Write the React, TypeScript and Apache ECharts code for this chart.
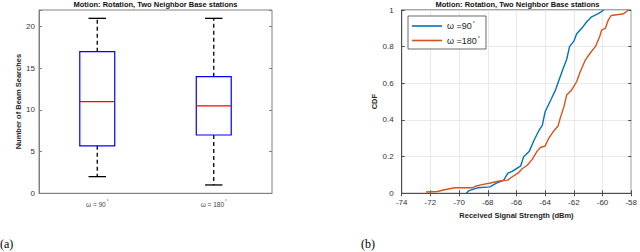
import React, { useEffect, useRef } from "react";
import * as echarts from "echarts";

const categories = ["ω = 90", "ω = 180"];
const whiskerLow = [2, 1];
const q1 = [5.7, 7];
const median = [11, 10.5];
const q3 = [17, 14];
const whiskerHigh = [21, 21];
const boxYTicks = [0, 5, 10, 15, 20];

const rssi90 = [-69.5, -69.3, -68.7, -67.85, -67.4, -66.9, -66.6, -66.3, -65.7, -65.5, -65.1, -64.8, -64.45, -64.2, -64.0, -63.6, -63.3, -63.07, -62.7, -62.5, -62.3, -62.0, -61.8, -61.45, -61.1, -60.76, -60.3, -59.9];
const cdf90 = [0, 0.015, 0.03, 0.035, 0.055, 0.07, 0.11, 0.12, 0.15, 0.2, 0.23, 0.285, 0.34, 0.37, 0.445, 0.51, 0.56, 0.61, 0.69, 0.73, 0.8, 0.83, 0.87, 0.9, 0.936, 0.963, 0.98, 1.0];
const rssi180 = [-72.3, -71.5, -71.1, -70.3, -69.05, -68.8, -68.4, -67.9, -67.2, -66.6, -66.4, -65.9, -65.6, -65.25, -64.9, -64.56, -64.33, -64.0, -63.75, -63.4, -63.1, -62.95, -62.7, -62.5, -62.15, -61.8, -61.57, -61.2, -60.87, -60.5, -60.2, -60.07, -59.8, -59.6, -59.4, -58.6, -58.35, -58.2];
const cdf180 = [0.007, 0.01, 0.018, 0.03, 0.03, 0.04, 0.047, 0.055, 0.067, 0.072, 0.085, 0.11, 0.134, 0.153, 0.185, 0.23, 0.25, 0.258, 0.3, 0.34, 0.367, 0.41, 0.47, 0.536, 0.564, 0.61, 0.66, 0.727, 0.764, 0.8, 0.854, 0.89, 0.9, 0.945, 0.97, 0.978, 0.99, 1.0];
const seriesNames = ["ω =90", "ω =180"];

const TITLE = "Motion: Rotation, Two Neighbor Base stations";
const SANS = "Liberation Sans, Arial, sans-serif";

export default function App() {
  const ref = useRef<HTMLDivElement>(null);
  useEffect(() => {
    const chart = echarts.init(ref.current!, undefined, { renderer: "svg" });
    const L = { left: 39, top: 10, width: 233, height: 183.3 };
    const R = { left: 401.7, top: 10, width: 231.6, height: 183.3 };
    const leftFrame = "#808080";
    const rightFrame = "#4d4d4d";
    const boxData = categories.map((c, i) => [i, whiskerLow[i], q1[i], median[i], q3[i], whiskerHigh[i]]);
    const tickLabel = { color: "#333", fontSize: 8, fontFamily: SANS };

    chart.setOption({
      animation: false,
      grid: [
        { ...L, show: true, borderColor: leftFrame, borderWidth: 1, backgroundColor: "#fff" },
        { ...R, show: true, borderColor: rightFrame, borderWidth: 1, backgroundColor: "#fff" },
      ],
      xAxis: [
        {
          gridIndex: 0, type: "category", data: categories,
          axisLine: { lineStyle: { color: leftFrame } },
          axisTick: { inside: true, alignWithLabel: true, lineStyle: { color: leftFrame }, length: 3 },
          axisLabel: {
            margin: 6,
            formatter: (v: string) => `{a|${v}}{s|°}`,
            rich: {
              a: { fontSize: 6.5, color: "#444", fontFamily: SANS },
              s: { fontSize: 4.5, color: "#444", fontFamily: SANS, verticalAlign: "top", padding: [0, 0, 5, 1] },
            },
          },
          splitLine: { show: false },
        },
        {
          gridIndex: 1, type: "value", min: -74, max: -58, interval: 2,
          axisLine: { lineStyle: { color: rightFrame } },
          axisTick: { inside: true, length: 3, lineStyle: { color: rightFrame } },
          axisLabel: { ...tickLabel, margin: 5 },
          splitLine: { show: true, lineStyle: { color: "#e3e3e3", width: 0.8 } },
          name: "Received Signal Strength (dBm)", nameLocation: "middle", nameGap: 17,
          nameTextStyle: { fontSize: 7.5, fontWeight: "bold", color: "#222", fontFamily: SANS },
        },
        {
          gridIndex: 1, type: "value", min: -74, max: -58, interval: 2, position: "top",
          axisLine: { show: false },
          axisTick: { inside: true, length: 3, lineStyle: { color: rightFrame } },
          axisLabel: { show: false }, splitLine: { show: false },
        },
      ],
      yAxis: [
        {
          gridIndex: 0, type: "value", min: 0, max: 22, interval: 5,
          axisLine: { show: true, lineStyle: { color: leftFrame } },
          axisTick: { show: true, inside: true, length: 3, lineStyle: { color: leftFrame } },
          axisLabel: { ...tickLabel, margin: 4, formatter: (v: number) => (boxYTicks.includes(v) ? String(v) : "") },
          splitLine: { show: false },
          name: "Number of Beam Searches", nameLocation: "middle", nameGap: 16,
          nameTextStyle: { fontSize: 7.5, fontWeight: "bold", color: "#222", fontFamily: SANS },
        },
        {
          gridIndex: 0, type: "value", min: 0, max: 22, interval: 5, position: "right",
          axisLine: { show: false },
          axisTick: { show: true, inside: true, length: 3, lineStyle: { color: leftFrame } },
          axisLabel: { show: false }, splitLine: { show: false },
        },
        {
          gridIndex: 1, type: "value", min: 0, max: 1, interval: 0.2,
          axisLine: { show: true, lineStyle: { color: rightFrame } },
          axisTick: { show: true, inside: true, length: 3, lineStyle: { color: rightFrame } },
          axisLabel: { ...tickLabel, margin: 8, formatter: (v: number) => (v === 0 || v === 1 ? String(v) : v.toFixed(1)) },
          splitLine: { show: true, lineStyle: { color: "#e3e3e3", width: 0.8 } },
          name: "CDF", nameLocation: "middle", nameGap: 19,
          nameTextStyle: { fontSize: 7.5, fontWeight: "bold", color: "#222", fontFamily: SANS },
        },
        {
          gridIndex: 1, type: "value", min: 0, max: 1, interval: 0.2, position: "right",
          axisLine: { show: false },
          axisTick: { show: true, inside: true, length: 3, lineStyle: { color: rightFrame } },
          axisLabel: { show: false }, splitLine: { show: false },
        },
      ],
      legend: {
        left: 408, top: 16, orient: "vertical",
        data: seriesNames,
        icon: "rect", itemWidth: 30, itemHeight: 1.6, itemGap: 4,
        padding: [4, 6, 4, 4],
        borderColor: "#444", borderWidth: 0.8, backgroundColor: "#fff",
        formatter: (n: string) => `{a|${n}}{s|°}`,
        textStyle: {
          rich: {
            a: { fontSize: 9, color: "#222", fontFamily: SANS },
            s: { fontSize: 5.5, color: "#222", fontFamily: SANS, verticalAlign: "top", padding: [0, 0, 6, 1] },
          },
        },
      },
      series: [
        {
          type: "custom", xAxisIndex: 0, yAxisIndex: 0, data: boxData, clip: false,
          renderItem: (params: any, api: any) => {
            const i = api.value(0);
            const bw = api.size([1, 0])[0] * 0.3;
            const pLo = api.coord([i, api.value(1)]);
            const pQ1 = api.coord([i, api.value(2)]);
            const pMed = api.coord([i, api.value(3)]);
            const pQ3 = api.coord([i, api.value(4)]);
            const pHi = api.coord([i, api.value(5)]);
            const x = pQ1[0];
            const capW = bw / 2;
            const dashed = { stroke: "#000", lineWidth: 1.3, lineDash: [4, 3] };
            const solid = { stroke: "#000", lineWidth: 1.3 };
            return {
              type: "group",
              children: [
                { type: "line", shape: { x1: x, y1: pQ1[1], x2: x, y2: pLo[1] }, style: dashed },
                { type: "line", shape: { x1: x, y1: pQ3[1], x2: x, y2: pHi[1] }, style: dashed },
                { type: "line", shape: { x1: x - capW / 2, y1: pLo[1], x2: x + capW / 2, y2: pLo[1] }, style: solid },
                { type: "line", shape: { x1: x - capW / 2, y1: pHi[1], x2: x + capW / 2, y2: pHi[1] }, style: solid },
                { type: "rect", shape: { x: x - bw / 2, y: pQ3[1], width: bw, height: pQ1[1] - pQ3[1] }, style: { fill: "none", stroke: "#0000ff", lineWidth: 1.2 } },
                { type: "line", shape: { x1: x - bw / 2, y1: pMed[1], x2: x + bw / 2, y2: pMed[1] }, style: { stroke: "#ff0000", lineWidth: 1.2 } },
              ],
            };
          },
        },
        {
          type: "line", name: seriesNames[0], xAxisIndex: 1, yAxisIndex: 2,
          data: rssi90.map((v, i) => [v, cdf90[i]]),
          showSymbol: false, color: "#0072BD", lineStyle: { width: 1.4, color: "#0072BD" },
        },
        {
          type: "line", name: seriesNames[1], xAxisIndex: 1, yAxisIndex: 2,
          data: rssi180.map((v, i) => [v, cdf180[i]]),
          showSymbol: false, color: "#D95319", lineStyle: { width: 1.4, color: "#D95319" },
        },
      ],
      graphic: [
        { type: "text", x: L.left + L.width / 2, y: 4.5, style: { text: TITLE, textAlign: "center", textVerticalAlign: "middle", font: `bold 7.5px ${SANS}`, fill: "#111" } },
        { type: "text", x: R.left + R.width / 2, y: 4.5, style: { text: TITLE, textAlign: "center", textVerticalAlign: "middle", font: `bold 7.5px ${SANS}`, fill: "#111" } },
        { type: "text", x: 0, y: 244, style: { text: "(a)", textVerticalAlign: "middle", font: `12px "Liberation Serif", serif`, fill: "#000" } },
        { type: "text", x: 361, y: 244, style: { text: "(b)", textVerticalAlign: "middle", font: `12px "Liberation Serif", serif`, fill: "#000" } },
      ],
    });
    return () => chart.dispose();
  }, []);
  return <div ref={ref} style={{ width: 640, height: 252, position: "absolute", left: 0, top: 0 }} />;
}
